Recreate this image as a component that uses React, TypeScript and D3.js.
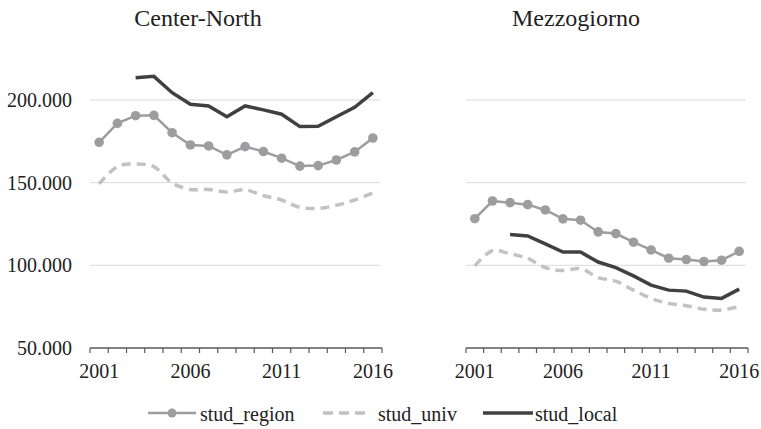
import React, { useEffect, useRef } from 'react';
import * as d3 from 'd3';

const years = ['2001', '2002', '2003', '2004', '2005', '2006', '2007', '2008', '2009', '2010', '2011', '2012', '2013', '2014', '2015', '2016'];
const yearLabels = ['2001', '2006', '2011', '2016'];
const yTicks = [50000, 100000, 150000, 200000];

const northRegion = [174400, 185900, 190500, 190700, 180200, 172800, 172200, 166800, 171800, 168800, 164800, 160000, 160300, 163700, 168600, 177000];
const northUniv = [149200, 159700, 161300, 159700, 149800, 145900, 145900, 144300, 145700, 142100, 139500, 135100, 134400, 136300, 139500, 143800];
const northLocal = [null, null, 213500, 214300, 204400, 197400, 196400, 189900, 196400, 194000, 191400, 183900, 184100, 189900, 195600, 204400];

const southRegion = [128200, 138900, 137900, 136700, 133500, 128100, 127300, 120200, 119200, 114000, 109300, 104300, 103500, 102300, 103100, 108500];
const southUniv = [99700, 108800, 107000, 104200, 98600, 96800, 98000, 92600, 90400, 85000, 80000, 77000, 75600, 73400, 73000, 75000];
const southLocal = [null, null, 118600, 117800, 113000, 108000, 108000, 102000, 98600, 93600, 88000, 85000, 84400, 80800, 80000, 85600];

const FONT = "'Liberation Serif', Tinos, 'Times New Roman', Times, 'DejaVu Serif', serif";
const C_REGION = '#9d9d9f';
const C_UNIV = '#c2c2c4';
const C_LOCAL = '#404040';

export default function App() {
  const ref = useRef<SVGSVGElement>(null);

  useEffect(() => {
    const svg = d3.select(ref.current);
    svg.selectAll('*').remove();

    const y = d3.scaleLinear().domain([50000, 250000]).range([348, 17.3]);

    const panels = [
      { title: 'Center-North', tx: 198, x0: 90, x1: 382, region: northRegion, univ: northUniv, local: northLocal, labels: true },
      { title: 'Mezzogiorno', tx: 576, x0: 466, x1: 748, region: southRegion, univ: southUniv, local: southLocal, labels: false },
    ];

    panels.forEach(p => {
      const x = d3.scaleBand().domain(years).range([p.x0, p.x1]).padding(0);
      const cx = (d: string) => (x(d) as number) + x.bandwidth() / 2;
      const g = svg.append('g');

      // gridlines
      g.selectAll('.grid')
        .data(yTicks.slice(1))
        .enter().append('line')
        .attr('x1', p.x0).attr('x2', p.x1 - 2)
        .attr('y1', d => y(d)).attr('y2', d => y(d))
        .style('stroke', '#d9d9d9').style('stroke-width', 1);

      if (p.labels) {
        g.selectAll('.ylab')
          .data(yTicks)
          .enter().append('text')
          .attr('x', 72).attr('y', d => y(d))
          .attr('text-anchor', 'end').attr('dominant-baseline', 'central')
          .attr('font-family', FONT).attr('font-size', 20).attr('fill', '#222')
          .text(d => d3.format(',')(d).replace(/,/g, '.'));
      }

      // x axis
      g.append('line')
        .attr('x1', p.x0).attr('x2', p.x1)
        .attr('y1', y(50000)).attr('y2', y(50000))
        .style('stroke', '#595959').style('stroke-width', 1.3);
      const bounds = years.map(d => x(d) as number).concat([p.x1]);
      g.selectAll('.tick')
        .data(bounds)
        .enter().append('line')
        .attr('x1', d => d).attr('x2', d => d)
        .attr('y1', y(50000)).attr('y2', y(50000) + 5)
        .style('stroke', '#595959').style('stroke-width', 1.2);
      g.selectAll('.xlab')
        .data(yearLabels)
        .enter().append('text')
        .attr('x', d => cx(d)).attr('y', 378)
        .attr('text-anchor', 'middle')
        .attr('font-family', FONT).attr('font-size', 20).attr('fill', '#222')
        .text(d => d);

      g.append('text')
        .attr('x', p.tx).attr('y', 26)
        .attr('text-anchor', 'middle')
        .attr('font-family', FONT).attr('font-size', 24).attr('fill', '#222')
        .text(p.title);

      const line = d3.line<number | null>()
        .defined(d => d !== null)
        .x((d, i) => cx(years[i]))
        .y(d => y(d as number));

      g.append('path')
        .attr('d', line.curve(d3.curveCatmullRom.alpha(0.5))(p.univ))
        .style('fill', 'none').style('stroke', C_UNIV).style('stroke-width', 3.5)
        .style('stroke-dasharray', '9,6');

      g.append('path')
        .attr('d', line.curve(d3.curveLinear)(p.region))
        .style('fill', 'none').style('stroke', C_REGION).style('stroke-width', 2.5);
      g.selectAll('.dot')
        .data(p.region)
        .enter().append('circle')
        .attr('cx', (d, i) => cx(years[i])).attr('cy', d => y(d))
        .attr('r', 4.8)
        .style('fill', C_REGION);

      g.append('path')
        .attr('d', line.curve(d3.curveLinear)(p.local))
        .style('fill', 'none').style('stroke', C_LOCAL).style('stroke-width', 3.5);
    });

    // legend
    const ly = 413;
    const lg = svg.append('g');
    lg.append('line').attr('x1', 148).attr('x2', 196).attr('y1', ly).attr('y2', ly)
      .style('stroke', C_REGION).style('stroke-width', 2.5);
    lg.append('circle').attr('cx', 172).attr('cy', ly).attr('r', 4.5).style('fill', C_REGION);
    lg.append('line').attr('x1', 323).attr('x2', 367).attr('y1', ly).attr('y2', ly)
      .style('stroke', C_UNIV).style('stroke-width', 3.5).style('stroke-dasharray', '10,6');
    lg.append('line').attr('x1', 483).attr('x2', 533).attr('y1', ly).attr('y2', ly)
      .style('stroke', C_LOCAL).style('stroke-width', 3.5);
    const items = [['stud_region', 200], ['stud_univ', 378], ['stud_local', 535]];
    items.forEach(([t, lx]) => {
      lg.append('text').attr('x', lx as number).attr('y', 421)
        .attr('font-family', FONT).attr('font-size', 20).attr('fill', '#222')
        .text(t as string);
    });
  }, []);

  return (
    <div style={{ position: 'absolute', left: 0, top: 0 }}>
      <svg ref={ref} width={761} height={429} style={{ background: '#fff', display: 'block' }} />
    </div>
  );
}
